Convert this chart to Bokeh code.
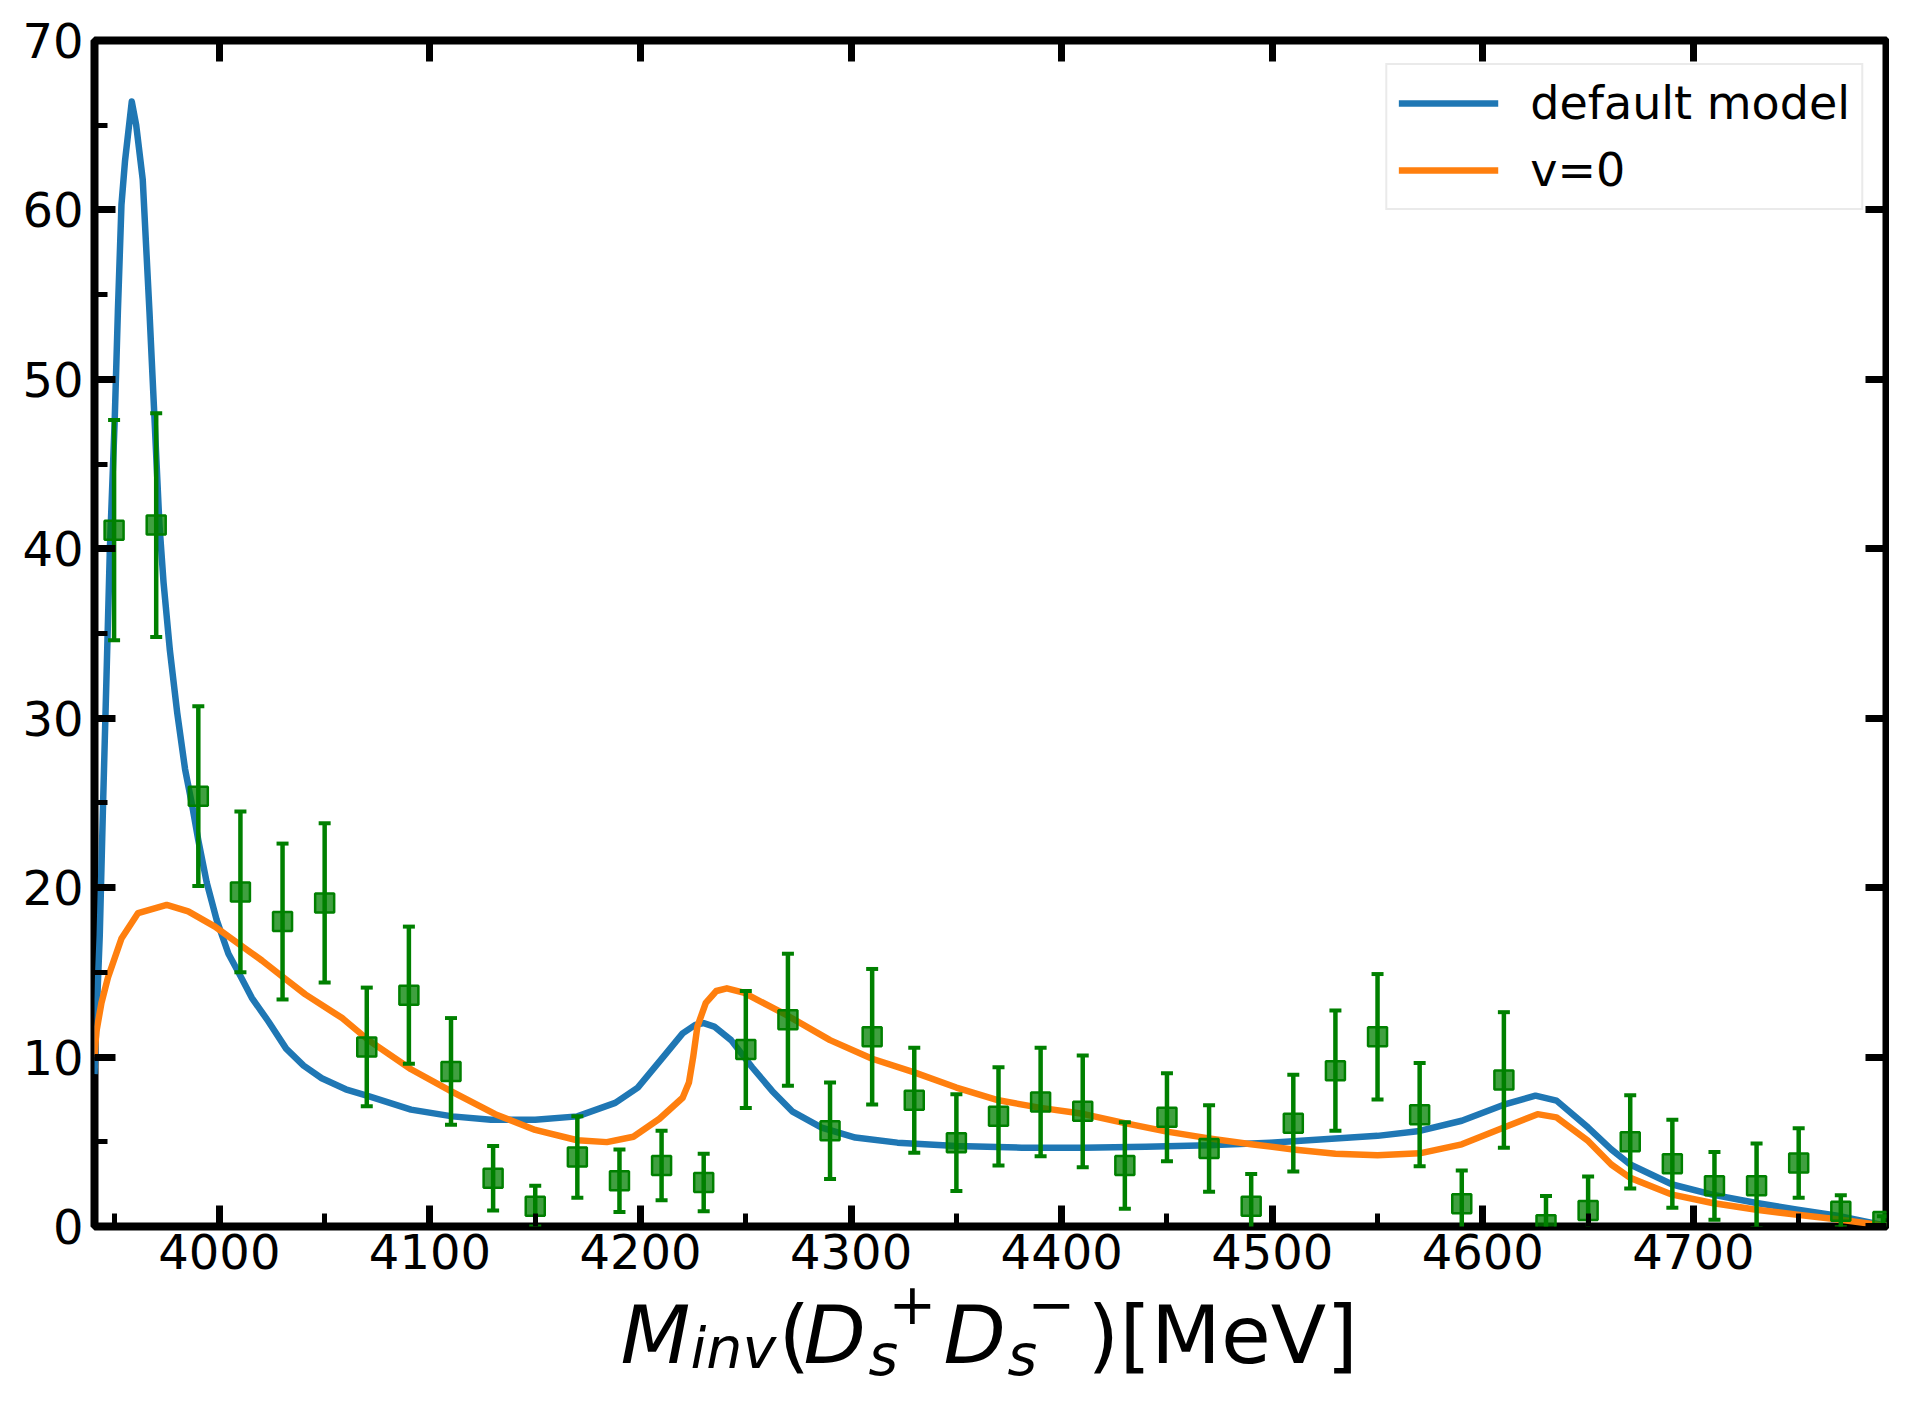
from bokeh.plotting import figure
from bokeh.models import (Range1d, LinearAxis, SingleIntervalTicker, Legend, LegendItem,
                          ColumnDataSource)
from bokeh.layouts import column
from bokeh.core.properties import value
from bokeh.embed import file_html
from bokeh.resources import INLINE

# ---------------- data ----------------
data_x = [3950, 3970, 3990, 4010, 4030, 4050, 4070, 4090, 4110, 4130, 4150, 4170, 4190, 4210,
          4230, 4250, 4270, 4290, 4310, 4330, 4350, 4370, 4390, 4410, 4430, 4450, 4470, 4490,
          4510, 4530, 4550, 4570, 4590, 4610, 4630, 4650, 4670, 4690, 4710, 4730, 4750, 4770, 4790]
data_y = [41.1, 41.4, 25.4, 19.75, 18.0, 19.1, 10.6, 13.65, 9.15, 2.85, 1.2, 4.1, 2.7, 3.6,
          2.6, 10.45, 12.2, 5.65, 11.2, 7.45, 4.95, 6.5, 7.35, 6.8, 3.6, 6.45, 4.6, 1.2,
          6.1, 9.2, 11.2, 6.6, 1.35, 8.65, 0.1, 0.95, 5.0, 3.7, 2.4, 2.4, 3.75, 0.9, 0.3]
data_err = [6.5, 6.6, 5.3, 4.75, 4.6, 4.7, 3.5, 4.05, 3.15, 1.9, 1.2, 2.4, 1.85, 2.05,
            1.7, 3.45, 3.9, 2.85, 4.0, 3.1, 2.85, 2.9, 3.2, 3.3, 2.55, 2.6, 2.55, 1.9,
            2.85, 3.55, 3.7, 3.05, 1.95, 4.0, 1.7, 2.0, 2.75, 2.6, 2.0, 2.5, 2.05, 0.95, 0.3]

default_x = [3940.7, 3941.6, 3943.2, 3944.8, 3946.3, 3948.0, 3950.3, 3951.8, 3953.5, 3955.2,
             3958.4, 3960.5, 3963.6, 3966.8, 3969.3, 3971.5, 3973.5, 3976.5, 3980.0, 3983.7,
             3987.0, 3990.0, 3994.0, 3998.7, 4004.3, 4009.5, 4015.4, 4023.3, 4031.7, 4040.0,
             4048.6, 4060.0, 4070.8, 4091, 4110.6, 4129, 4150, 4170, 4188,
             4198.7, 4211.4, 4220, 4226, 4230, 4235, 4243, 4253, 4262.5, 4272, 4286, 4302,
             4322, 4350, 4381, 4410, 4440, 4470, 4499, 4530, 4550, 4570, 4590, 4610, 4625,
             4635, 4650, 4661, 4670, 4690, 4709, 4730, 4749.5, 4770, 4785.5, 4791.7]
default_y = [9.0, 12.1, 17.2, 25.1, 32.0, 40.0, 47.6, 54.0, 60.3, 62.9,
             66.4, 65.0, 61.8, 54.0, 47.4, 41.5, 38.0, 34.0, 30.3, 27.0,
             24.9, 22.8, 20.3, 18.1, 16.1, 14.9, 13.5, 12.1, 10.5, 9.5,
             8.75, 8.1, 7.7, 6.9, 6.5, 6.3, 6.3, 6.5, 7.3,
             8.2, 10.1, 11.4, 11.9, 12.0, 11.8, 11.0, 9.4, 8.0, 6.8, 5.84, 5.25,
             4.95, 4.75, 4.65, 4.65, 4.71, 4.79, 4.95, 5.19, 5.35, 5.64, 6.24, 7.19, 7.72,
             7.43, 5.84, 4.55, 3.66, 2.48, 1.88, 1.39, 0.99, 0.6, 0.2, 0.05]

v0_x = [3940.7, 3941.6, 3944, 3947.1, 3953.5, 3961.4, 3975, 3985.2, 3997.9, 4009.5, 4020.2,
        4029.4, 4040.8, 4058.3, 4070.8, 4091, 4110.6, 4131, 4150, 4170, 4184, 4196.6, 4209,
        4220, 4223, 4225, 4227, 4231, 4236, 4241, 4249, 4269, 4290, 4310, 4330, 4350, 4370,
        4390, 4410, 4430, 4450, 4470, 4490, 4510, 4530, 4550, 4570, 4590, 4610, 4626, 4635,
        4650, 4661, 4670, 4690, 4709, 4730, 4749.5, 4770, 4785.5, 4791.7]
v0_y = [10.0, 11.5, 13.2, 14.7, 17.0, 18.5, 18.98, 18.6, 17.7, 16.65, 15.7,
        14.8, 13.7, 12.3, 11.0, 9.28, 7.95, 6.63, 5.7, 5.09, 4.98, 5.3, 6.36,
        7.6, 8.5, 10.0, 11.8, 13.2, 13.9, 14.06, 13.8, 12.5, 11.0, 9.9, 9.1, 8.2, 7.45,
        7.0, 6.65, 6.1, 5.6, 5.2, 4.85, 4.55, 4.3, 4.2, 4.32, 4.85, 5.84, 6.63, 6.44,
        5.05, 3.66, 2.87, 1.88, 1.39, 0.99, 0.69, 0.4, 0.14, 0.05]

legend_labels = ["default model", "v=0"]

# x-axis title pieces (mathtext-like composition)
title_texts = ["M", "inv", "(", "D", "s", "+", "D", "s", "\u2212", ")", "[MeV]"]

# ---------------- layout constants ----------------
W = 1889
H1, H2 = 1300, 130
LIFT = 33            # title strip overlaps the (empty) lower border of the plot
TEXT_SHIFT = 28      # compensation for the text glyph's baseline placement
FR_L, FR_R, FR_T, FR_B = 94, 1886, 40, 1226
X0, X1, Y0, Y1 = 3940.7, 4791.7, 0, 70
FONT = "DejaVu Sans"
BLUE, ORANGE, GREEN = "#1f77b4", "#ff7f0e", "#008000"

p = figure(width=W, height=H1, x_range=Range1d(X0, X1), y_range=Range1d(Y0, Y1),
           output_backend="svg", toolbar_location=None, title=None,
           min_border_left=FR_L, min_border_right=W - FR_R,
           min_border_top=FR_T, min_border_bottom=H1 - FR_B)
p.background_fill_color = "white"
p.border_fill_color = "white"
p.xgrid.grid_line_color = None
p.ygrid.grid_line_color = None
p.outline_line_color = "black"
p.outline_line_width = 8


def style_axis(ax, labels, minor):
    ax.axis_line_color = None
    ax.major_tick_in = 21
    ax.major_tick_out = 0
    ax.major_tick_line_width = 7
    ax.major_tick_line_color = "black"
    if minor:
        ax.minor_tick_in = 13
        ax.minor_tick_out = 0
        ax.minor_tick_line_width = 5
        ax.minor_tick_line_color = "black"
    else:
        ax.minor_tick_line_color = None
    if labels:
        ax.major_label_text_font = FONT
        ax.major_label_text_font_size = "48px"
        ax.major_label_text_color = "black"
    else:
        ax.major_label_text_font_size = "1px"
        ax.major_label_text_color = None
        ax.major_label_standoff = 0


xb = p.xaxis[0]
xb.ticker = SingleIntervalTicker(interval=100, num_minor_ticks=2)
style_axis(xb, True, True)
xb.major_label_standoff = 7

yl = p.yaxis[0]
yl.ticker = SingleIntervalTicker(interval=10, num_minor_ticks=2)
style_axis(yl, True, True)
yl.major_label_standoff = 11

xt = LinearAxis(ticker=SingleIntervalTicker(interval=100, num_minor_ticks=0))
style_axis(xt, False, False)
p.add_layout(xt, "above")
yr = LinearAxis(ticker=SingleIntervalTicker(interval=10, num_minor_ticks=0))
style_axis(yr, False, False)
p.add_layout(yr, "right")

# ---------------- curves ----------------
r_def = p.line(default_x, default_y, line_color=BLUE, line_width=6.5, line_join="round")
r_v0 = p.line(v0_x, v0_y, line_color=ORANGE, line_width=6.5, line_join="round")

# ---------------- data points with error bars ----------------
lo = [y - e for y, e in zip(data_y, data_err)]
hi = [y + e for y, e in zip(data_y, data_err)]
p.segment(x0=data_x, y0=lo, x1=data_x, y1=hi, line_color=GREEN, line_width=4.5)
p.scatter(data_x, lo, marker="dash", size=12, line_color=GREEN, line_width=4)
p.scatter(data_x, hi, marker="dash", size=12, line_color=GREEN, line_width=4)
p.scatter(data_x, data_y, marker="square", size=19, fill_color=GREEN, fill_alpha=0.75,
          line_color=GREEN, line_width=2.5)

# ---------------- legend ----------------
legend = Legend(items=[LegendItem(label=legend_labels[0], renderers=[r_def]),
                       LegendItem(label=legend_labels[1], renderers=[r_v0])],
                location="top_right", margin=23, padding=11, spacing=13,
                glyph_width=100, glyph_height=44, label_height=44, label_standoff=32,
                label_text_font=FONT, label_text_font_size="46px", label_text_color="black",
                border_line_color="#d6d6d6", border_line_width=2,
                background_fill_color="white", background_fill_alpha=0.8)
p.add_layout(legend, "center")

# ---------------- x-axis title strip (page-pixel coordinates) ----------------
t = figure(width=W, height=H2, x_range=Range1d(FR_L, FR_R), y_range=Range1d(H2, 0),
           output_backend="svg", toolbar_location=None, title=None,
           x_axis_type=None, y_axis_type=None,
           min_border_left=FR_L, min_border_right=W - FR_R,
           min_border_top=0, min_border_bottom=0)
t.outline_line_color = None
t.background_fill_alpha = 0
t.border_fill_alpha = 0
t.margin = (-LIFT, 0, 0, 0)

TOP = H1 - LIFT + TEXT_SHIFT


def ty(page_y):
    return page_y - TOP


BIG, SMALL = "81px", "57px"
base, sub_i, sub_s, sup = ty(1362), ty(1375), ty(1382), ty(1330)
src = ColumnDataSource(dict(
    text=title_texts,
    x=[620, 690, 778, 803, 868, 888, 943, 1007, 1027, 1087, 1119],
    y=[base, sub_i, base, base, sub_s, sup, base, sub_s, sup, base, base],
    size=[BIG, SMALL, BIG, BIG, SMALL, SMALL, BIG, SMALL, SMALL, BIG, BIG],
    style=["italic", "italic", "normal", "italic", "italic", "normal",
           "italic", "italic", "normal", "normal", "normal"],
))
t.text(x="x", y="y", text="text", source=src, text_font=value(FONT),
       text_font_size="size", text_font_style="style", text_color="black",
       text_align="left", text_baseline="alphabetic")

layout = column(p, t, spacing=0)
open("out.html", "w").write(file_html(layout, INLINE))
